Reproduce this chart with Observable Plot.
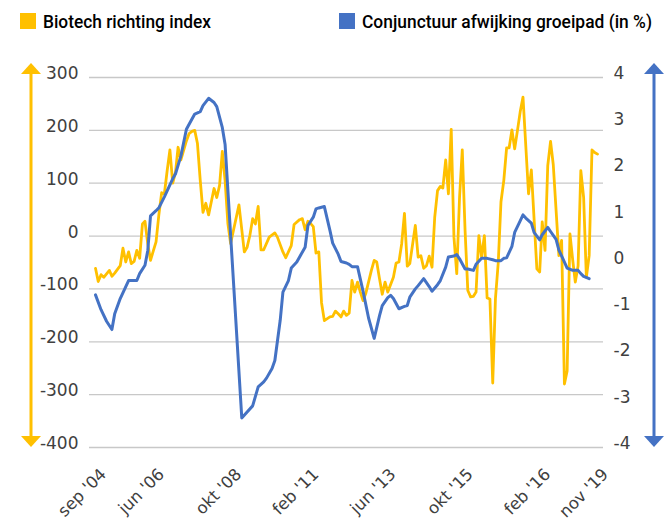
<!DOCTYPE html>
<html><head><meta charset="utf-8">
<script src="https://cdn.jsdelivr.net/npm/d3@7"></script>
<script src="https://cdn.jsdelivr.net/npm/@observablehq/plot@0.6"></script>
<style>
body{margin:0;background:#fff;font-family:"DejaVu Sans",sans-serif;}
#wrap{width:667px;}
#legend svg,#chart svg{display:block;}
</style></head><body>
<div id="wrap">
<div id="legend"></div>
<div id="chart"></div>
</div>
<script>
// months counted from sep 2004
const biotechMonths = [0,1,2,3,5,6,7,9,10,11,12,13,14,15,16,17,18,19,20,21,22,23,24,25,26,27,28,29,30,31,33,34,35,36,37,38,39,40,41,43,44,45,46,47,48,49,52,54,55,56,57,58,59,60,61,63,65,66,68,69,71,72,74,75,76,77,78,79,80,81,82,83,85,86,87,88,89,90,91,92,93,94,95,96,97,98,100,101,102,103,104,105,106,108,109,110,111,112,113,114,116,117,118,119,120,121,122,123,124,125,126,127,128,129,130,131,132,133,134,135,136,137,138,139,140,141,142,143,144,145,146,147,148,149,150,151,152,153,154,155,157,158,159,160,161,162,163,164,165,166,168,169,170,171,172,173,174,175,176,177,178,179,180,181,182];
const biotechValues = [-61,-86,-73,-78,-65,-76,-70,-56,-23,-49,-30,-52,-48,-27,-42,23,28,-15,-46,-28,-11,40,82,80,124,163,100,121,168,144,180,194,198,200,175,105,45,62,40,90,73,96,160,105,23,-14,59,-30,-21,1,33,23,56,-26,-26,-2,6,-2,-30,-41,-18,22,31,33,12,28,24,18,-32,-30,-126,-160,-153,-152,-142,-147,-153,-142,-150,-146,-84,-106,-87,-106,-122,-108,-65,-46,-49,-81,-110,-87,-106,-78,-51,-49,-15,43,-57,-52,20,-40,-37,-61,-56,-38,-59,36,86,94,91,144,80,202,-2,-71,74,163,10,-103,-115,-114,-106,1,-40,1,-117,-119,-278,-118,-50,65,105,167,167,201,165,200,235,263,80,125,33,-62,-68,27,-27,133,179,135,-37,-8,-280,-255,4,-46,-87,-56,124,73,-78,-37,163,158,155];

const groeiMonths = [0,2,4,6,7,9,12,15,16,18,19,20,22,23,25,27,28,29,31,33,34,36,38,39,41,43,44,46,47,53,55,57,59,61,62,64,65,67,68,70,71,73,74,76,77,79,80,81,83,85,86,88,89,91,92,93,95,97,99,101,103,104,106,107,108,110,112,113,114,116,117,119,121,122,124,125,127,128,130,131,132,134,135,137,138,140,142,144,145,147,148,149,151,152,154,155,156,158,159,161,162,164,165,167,168,170,171,173,175,176,177,179];
const groeiValues = [-0.70,-1.02,-1.27,-1.45,-1.11,-0.78,-0.39,-0.39,-0.24,-0.06,0.26,1.01,1.12,1.18,1.42,1.68,1.81,1.92,2.3,2.88,2.99,3.21,3.26,3.39,3.55,3.46,3.37,2.92,2.55,-3.36,-3.23,-3.1,-2.69,-2.58,-2.50,-2.29,-2.12,-1.25,-0.64,-0.39,-0.12,0.01,0.12,0.33,0.80,0.98,1.16,1.18,1.21,0.7,0.42,0.18,0.02,-0.01,-0.04,-0.09,-0.09,-0.62,-1.2,-1.64,-1.15,-0.93,-0.76,-0.71,-0.78,-1.0,-0.95,-0.93,-0.75,-0.57,-0.50,-0.35,-0.52,-0.62,-0.48,-0.39,-0.10,0.12,0.14,0.17,0.08,-0.14,-0.14,-0.17,-0.04,0.09,0.09,0.06,0.04,0.04,0.09,0.10,0.35,0.65,0.9,1.03,0.96,0.85,0.65,0.49,0.6,0.76,0.67,0.5,0.27,0.01,-0.12,-0.17,-0.17,-0.24,-0.30,-0.35];

const leftTicks = [300,200,100,0,-100,-200,-300,-400];
const rightTicks = [4,3,2,1,0,-1,-2,-3,-4];
const xTickMonths = [0,21,49,77,105,133,161,182];
const xTickLabels = ["sep '04","jun '06","okt '08","feb '11","jun '13","okt '15","feb '16","nov '19"];
const seriesNames = ["Biotech richting index", "Conjunctuur afwijking groeipad (in %)"];

const YELLOW = "#FFC000", BLUE = "#4472C4";
const FONT = '"DejaVu Sans",sans-serif';

// legend (SVG, above the chart)
(function legend() {
  const items = [
    {name: seriesNames[0], color: YELLOW, x: 20, w: 168},
    {name: seriesNames[1], color: BLUE, x: 339, w: 290}
  ];
  const lg = d3.select("#legend").append("svg").attr("width", 667).attr("height", 40);
  for (const it of items) {
    lg.append("rect").attr("x", it.x).attr("y", 13).attr("width", 16).attr("height", 16).attr("fill", it.color);
    lg.append("text").attr("x", it.x + 23).attr("y", 28)
      .style("font-family", "Roboto, 'Liberation Sans', sans-serif").style("font-weight", 500)
      .attr("font-size", 17.5).attr("fill", "#000")
      .attr("textLength", it.w).attr("lengthAdjust", "spacingAndGlyphs").text(it.name);
  }
})();

const toDate = m => new Date(Date.UTC(2004, 8 + m, 1));
const toLeft = r => -50 + 87.5 * r;   // right axis (%) -> left axis units
const fromLeft = v => (v + 50) / 87.5;

const biotech = biotechMonths.map((m, i) => ({date: toDate(m), value: biotechValues[i]}));
const groei = groeiMonths.map((m, i) => ({date: toDate(m), value: groeiValues[i]}));
const labelMap = new Map(xTickMonths.map((m, i) => [+toDate(m), xTickLabels[i]]));

const plot = Plot.plot({
  width: 667, height: 483,
  marginLeft: 89, marginRight: 64, marginTop: 37, marginBottom: 76,
  style: {fontFamily: FONT, fontSize: "17px", color: "#404040", background: "#fff", overflow: "visible"},
  x: {type: "utc", domain: [toDate(0), toDate(182)], insetLeft: 6, insetRight: 6},
  y: {domain: [-400, 300]},
  marks: [
    Plot.ruleY(leftTicks, {stroke: "#C8C8C8", strokeWidth: 1.3}),
    Plot.axisY(leftTicks, {anchor: "left", tickSize: 0, tickPadding: 11, label: null, fill: "#404040", fontSize: 17, dy: -4,
      tickFormat: d => String(d)}),
    Plot.axisY(rightTicks.map(toLeft), {anchor: "right", tickSize: 0, tickPadding: 10, label: null, fill: "#404040", fontSize: 17, dy: -4,
      tickFormat: d => String(Math.round(fromLeft(d)))}),
    Plot.axisX(xTickMonths.map(toDate), {anchor: "bottom", tickSize: 0, tickPadding: 24, tickRotate: -45, textAnchor: "end",
      label: null, fill: "#404040", fontSize: 16.5, dx: 8, tickFormat: d => labelMap.get(+d)}),
    Plot.line(biotech, {x: "date", y: "value", stroke: YELLOW, strokeWidth: 2.8, strokeLinejoin: "round"}),
    Plot.line(groei, {x: "date", y: d => toLeft(d.value), stroke: BLUE, strokeWidth: 3, strokeLinejoin: "round"})
  ]
});

// axis arrows (decorative), positioned from the y scale
const ys = plot.scale("y");
const svg = d3.select(plot);
function arrow(x, color) {
  const top = ys.apply(300) - 14, bot = ys.apply(-400);
  const g = svg.append("g");
  g.append("line").attr("x1", x).attr("x2", x).attr("y1", top + 8).attr("y2", bot - 8)
    .attr("stroke", color).attr("stroke-width", 3);
  g.append("path").attr("d", `M${x},${top}L${x + 10},${top + 11}L${x - 10},${top + 11}Z`).attr("fill", color);
  g.append("path").attr("d", `M${x},${bot}L${x + 10},${bot - 11}L${x - 10},${bot - 11}Z`).attr("fill", color);
}
arrow(31, YELLOW);
arrow(654, BLUE);

document.getElementById("chart").appendChild(plot);
</script>
</body></html>
